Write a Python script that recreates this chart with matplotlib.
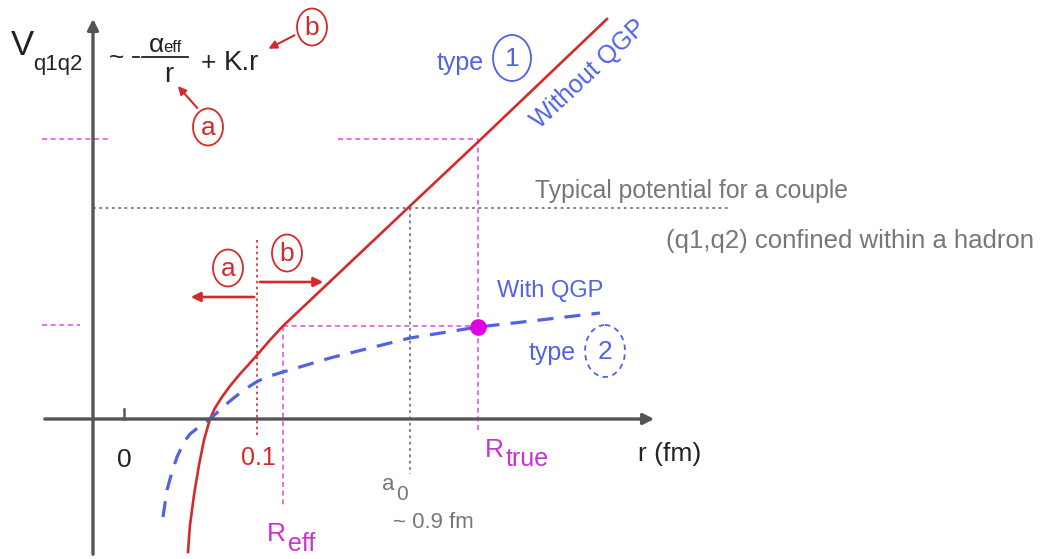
import matplotlib
matplotlib.use("Agg")
import matplotlib.pyplot as plt
from matplotlib.patches import Ellipse

plt.rcParams["font.family"] = ["Liberation Sans", "DejaVu Sans"]

# curves (pixel space, y down)
red_x = [188, 190, 194, 199, 204, 210, 215, 222, 230, 240, 250, 258, 270, 283, 410, 478, 607]
red_y = [552, 525, 495, 465, 440, 419, 408, 397, 386, 374, 363, 354, 340, 326, 206, 142, 19]
blue_x = [163, 167, 172, 177, 184, 190, 200, 210, 220, 230, 240, 250, 258, 270, 283, 330, 410, 478, 540, 600]
blue_y = [517, 490, 472, 457, 442, 434, 426, 419, 410, 401, 393, 386, 381, 376, 372, 358, 338, 327, 320, 313]

# special points
r_01 = 257
r_eff = (283, 326)
r_true = (478, 327)
a0 = (410, 208)
upper_level = 139
axis_y = 419
axis_x = 93

RED = "#d42a2a"
BLUE = "#5062e6"
MAG = "#e05ae0"
MAGTXT = "#cc33cc"
GRAY = "#777777"
AX = "#555555"
INK = "#222222"

fig = plt.figure(figsize=(10.44, 5.59), dpi=100)
ax = fig.add_axes([0, 0, 1, 1])
ax.set_xlim(0, 1044)
ax.set_ylim(559, 0)
ax.axis("off")

# axes
ax.annotate("", xy=(657, axis_y), xytext=(42, axis_y),
            arrowprops=dict(arrowstyle="-|>", lw=2.4, color=AX, mutation_scale=16))
ax.annotate("", xy=(axis_x, 16), xytext=(axis_x, 557),
            arrowprops=dict(arrowstyle="-|>", lw=2.4, color=AX, mutation_scale=16))
ax.plot([124, 124], [409, axis_y], color=AX, lw=1.8)

# guide lines
dot = (0, (1.5, 2))
dash = (0, (3, 2.2))
ax.plot([axis_x, 728], [a0[1], a0[1]], color=GRAY, lw=1.3, ls=dot)
ax.plot([a0[0], a0[0]], [a0[1], 474], color=GRAY, lw=1.3, ls=dot)
ax.plot([r_01, r_01], [240, 437], color=RED, lw=1.2, ls=dot)
ax.plot([r_eff[0], r_eff[0]], [r_eff[1], 507], color=MAG, lw=1.2, ls=dash)
ax.plot([r_eff[0], r_true[0]], [r_eff[1], r_eff[1]], color=MAG, lw=1.2, ls=dash)
ax.plot([r_true[0], r_true[0]], [upper_level, 432], color=MAG, lw=1.2, ls=dash)
ax.plot([338, r_true[0]], [upper_level, upper_level], color=MAG, lw=1.2, ls=dash)
ax.plot([42, 110], [upper_level, upper_level], color=MAG, lw=1.2, ls=dash)
ax.plot([42, 80], [325, 325], color=MAG, lw=1.2, ls=dash)

# curves
ax.plot(red_x, red_y, color=RED, lw=1.9)
ax.plot(blue_x, blue_y, color=BLUE, lw=2.3, ls=(0, (5, 3.5)))
ax.plot(*r_true, "o", color="#e000e0", ms=11)

# a / b arrows at 0.1
ax.annotate("", xy=(188, 297), xytext=(r_01, 297),
            arrowprops=dict(arrowstyle="-|>", lw=1.9, color=RED, mutation_scale=14))
ax.annotate("", xy=(326, 282), xytext=(r_01, 282),
            arrowprops=dict(arrowstyle="-|>", lw=1.9, color=RED, mutation_scale=14))


def circled(x, y, s, color, w=30, h=37, ls="-", fs=19):
    ax.add_patch(Ellipse((x, y), w, h, fill=False, ec=color, lw=1.3, ls=ls))
    ax.text(x, y + 1, s, color=color, fontsize=fs, ha="center", va="center")


circled(228, 268, "a", RED)
circled(287, 253, "b", RED)
circled(312, 27, "b", RED)
circled(208, 127, "a", RED)
ax.annotate("", xy=(266, 50), xytext=(297, 34),
            arrowprops=dict(arrowstyle="-|>", lw=1.5, color=RED, mutation_scale=12))
ax.annotate("", xy=(176, 84), xytext=(199, 110),
            arrowprops=dict(arrowstyle="-|>", lw=1.5, color=RED, mutation_scale=12))

# formula
ax.text(11, 55, "V", fontsize=25, color=INK, va="baseline")
ax.text(33, 70, "q1q2", fontsize=16, color=INK, va="baseline")
ax.text(117, 58, "~", fontsize=19, color=INK, ha="center", va="center")
ax.plot([133, 139], [57, 57], color=INK, lw=1.3)
ax.plot([142, 188], [57, 57], color=INK, lw=1.3)
ax.text(149, 52, "α", fontsize=19, color=INK, va="baseline")
ax.text(163, 52, "eff", fontsize=12, color=INK, va="baseline")
ax.text(169, 82, "r", fontsize=20, color=INK, ha="center", va="baseline")
ax.text(201, 70, "+", fontsize=19, color=INK, va="baseline")
ax.text(224, 70, "K.r", fontsize=20, color=INK, va="baseline")

# labels
ax.text(437, 70, "type", fontsize=18, color=BLUE, va="baseline")
circled(512, 58, "1", BLUE, 38, 46)
ax.text(589, 74, "Without QGP", fontsize=18, color=BLUE, rotation=43,
        ha="center", va="center", rotation_mode="anchor")
ax.text(497, 297, "With QGP", fontsize=17, color=BLUE, va="baseline")
ax.text(529, 360, "type", fontsize=18, color=BLUE, va="baseline")
circled(605, 351, "2", BLUE, 40, 52, ls=(0, (3, 2.5)))

ax.text(535, 198, "Typical potential for a couple", fontsize=17.8, color=GRAY, va="baseline")
ax.text(666, 248, "(q1,q2) confined within a hadron", fontsize=18.5, color=GRAY, va="baseline")

ax.text(638, 461, "r (fm)", fontsize=19, color=INK, va="baseline")
ax.text(124, 467, "0", fontsize=19, color=INK, ha="center", va="baseline")
ax.text(258, 465, "0.1", fontsize=18, color=RED, ha="center", va="baseline")
ax.text(485, 457, "R", fontsize=19, color=MAGTXT, va="baseline")
ax.text(506, 466, "true", fontsize=18, color=MAGTXT, va="baseline")
ax.text(267, 541, "R", fontsize=19, color=MAGTXT, va="baseline")
ax.text(288, 551, "eff", fontsize=18, color=MAGTXT, va="baseline")
ax.text(382, 490, "a", fontsize=16, color=GRAY, va="baseline")
ax.text(396, 500, "0", fontsize=15, color=GRAY, va="baseline")
ax.text(393, 528, "~ 0.9 fm", fontsize=16, color=GRAY, va="baseline")

fig.savefig("out.png", dpi=100)
